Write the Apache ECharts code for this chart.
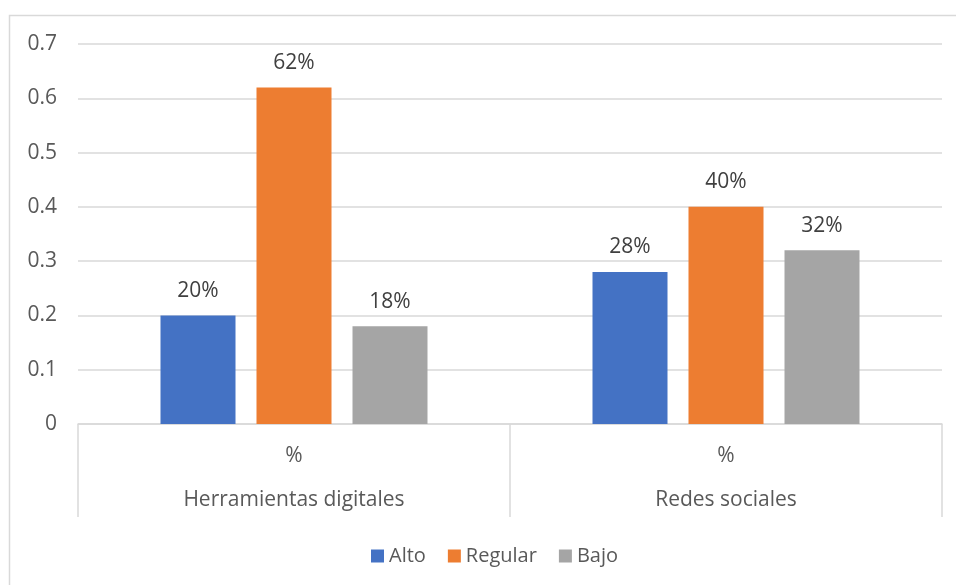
<!DOCTYPE html>
<html>
<head>
<meta charset="utf-8">
<script src="https://cdn.jsdelivr.net/npm/echarts@6/dist/echarts.min.js"></script>
<style>
  html, body { margin: 0; padding: 0; background: #fff; }
  #chart { width: 956px; height: 585px; }
</style>
</head>
<body>
<div id="chart"></div>
<script>
// Category rows of the two-level horizontal axis
const innerLabels = ['%', '%'];
const groupLabels = ['Herramientas digitales', 'Redes sociales'];

// Series values (shares)
const seriesNames = ['Alto', 'Regular', 'Bajo'];
const alto = [0.20, 0.28];
const regular = [0.62, 0.40];
const bajo = [0.18, 0.32];

// Value axis ticks
const yMin = 0, yMax = 0.7, yStep = 0.1;

const colors = ['#4472C4', '#ED7D31', '#A5A5A5'];
const fontFamily = "'Open Sans', 'Noto Sans', sans-serif";
const gridColor = '#d9d9d9';
const textColor = '#595959';

const chart = echarts.init(document.getElementById('chart'));

function pctLabel(p) {
  return Math.round(p.value * 100) + '%';
}

function barSeries(name, data, color) {
  return {
    name: name,
    type: 'bar',
    xAxisIndex: 0,
    data: data,
    barWidth: 75,
    barGap: '28%',
    itemStyle: { color: color },
    label: {
      show: true,
      position: 'top',
      distance: 14,
      formatter: pctLabel,
      color: '#404040',
      fontSize: 21,
      fontFamily: fontFamily
    }
  };
}

chart.setOption({
  animation: false,
  backgroundColor: '#fff',
  color: colors,
  graphic: [{
    type: 'rect',
    shape: { x: 9.5, y: 15.5, width: 1000, height: 1000 },
    style: { fill: 'none', stroke: gridColor, lineWidth: 1.5 },
    silent: true,
    z: -10
  }],
  grid: { left: 78, right: 14, top: 44, bottom: 161 },
  legend: {
    top: 541,
    left: 366,
    itemWidth: 13,
    itemHeight: 13,
    itemGap: 22,
    icon: 'rect',
    textStyle: { color: textColor, fontSize: 20, fontFamily: fontFamily },
    data: seriesNames
  },
  xAxis: [{
    type: 'category',
    data: innerLabels,
    axisLine: { show: true, lineStyle: { color: gridColor, width: 1.5 } },
    axisTick: { show: true, length: 93, lineStyle: { color: gridColor, width: 1.5 } },
    axisLabel: { color: textColor, fontSize: 21, fontFamily: fontFamily, margin: 22 }
  }, {
    type: 'category',
    data: groupLabels,
    position: 'bottom',
    axisLine: { show: false },
    axisTick: { show: false },
    axisLabel: { color: textColor, fontSize: 21, fontFamily: fontFamily, margin: 66 }
  }],
  yAxis: {
    type: 'value',
    min: yMin,
    max: yMax,
    interval: yStep,
    axisLine: { show: false },
    axisTick: { show: false },
    splitLine: { lineStyle: { color: gridColor, width: 1.5 } },
    axisLabel: {
      color: textColor,
      fontSize: 21,
      fontFamily: fontFamily,
      margin: 21,
      formatter: v => (v === 0 ? '0' : v.toFixed(1))
    }
  },
  series: [
    barSeries(seriesNames[0], alto, colors[0]),
    barSeries(seriesNames[1], regular, colors[1]),
    barSeries(seriesNames[2], bajo, colors[2])
  ]
});
</script>
</body>
</html>
